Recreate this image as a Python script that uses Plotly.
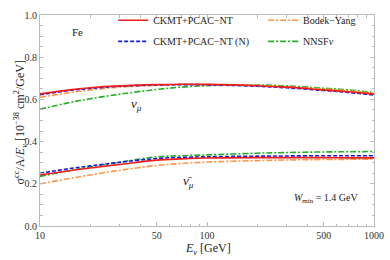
import plotly.graph_objects as go

E = [10, 15, 20, 30, 50, 70, 100, 200, 300, 500, 700, 1000]

# nu_mu
nu_ckmt   = [0.626, 0.645, 0.655, 0.664, 0.670, 0.672, 0.671, 0.665, 0.658, 0.645, 0.636, 0.625]
nu_ckmtN  = [0.622, 0.642, 0.652, 0.662, 0.668, 0.670, 0.669, 0.662, 0.655, 0.642, 0.633, 0.621]
nu_by     = [0.610, 0.632, 0.645, 0.658, 0.667, 0.670, 0.670, 0.666, 0.660, 0.650, 0.641, 0.630]
nu_nnsf   = [0.553, 0.585, 0.603, 0.625, 0.647, 0.658, 0.665, 0.668, 0.664, 0.653, 0.645, 0.633]

# anti nu_mu
nb_ckmt   = [0.242, 0.262, 0.275, 0.292, 0.312, 0.318, 0.322, 0.324, 0.324, 0.324, 0.323, 0.323]
nb_ckmtN  = [0.250, 0.272, 0.285, 0.302, 0.320, 0.325, 0.328, 0.331, 0.332, 0.333, 0.333, 0.333]
nb_by     = [0.200, 0.225, 0.242, 0.264, 0.287, 0.296, 0.303, 0.310, 0.313, 0.315, 0.316, 0.317]
nb_nnsf   = [0.235, 0.262, 0.280, 0.302, 0.328, 0.333, 0.337, 0.345, 0.348, 0.351, 0.352, 0.353]

names = ["CKMT+PCAC\u2212NT", "CKMT+PCAC\u2212NT (N)", "Bodek\u2212Yang", "NNSF<i>\u03bd</i>"]
colors = ["rgb(235,30,30)", "rgb(25,25,230)", "rgb(255,150,70)", "rgb(40,175,40)"]
dashes = ["solid", "4px,2px", "6px,2px,2px,2px", "6px,2px,2px,2px"]
legends = ["legend", "legend2", "legend3", "legend4"]

FONT = "Liberation Serif"
fig = go.Figure()

nu_sets = [nu_ckmt, nu_ckmtN, nu_by, nu_nnsf]
nb_sets = [nb_ckmt, nb_ckmtN, nb_by, nb_nnsf]
order = [3, 2, 1, 0]
for i in order:
    fig.add_trace(go.Scatter(x=E, y=nu_sets[i], mode="lines", name=names[i],
                             line=dict(color=colors[i], width=1.6, dash=dashes[i], shape="spline"),
                             legend=legends[i], showlegend=True))
    fig.add_trace(go.Scatter(x=E, y=nb_sets[i], mode="lines", name=names[i],
                             line=dict(color=colors[i], width=1.6, dash=dashes[i], shape="spline"),
                             showlegend=False))

axis_common = dict(showline=True, linecolor="#bbbbbb", linewidth=1, mirror="allticks",
                   ticks="inside", ticklen=4, tickcolor="#bbbbbb", showgrid=False, zeroline=False,
                   tickfont=dict(family=FONT, size=10, color="#333333"))

fig.update_xaxes(type="log", range=[1, 3],
                 tickvals=[10, 50, 100, 500, 1000], ticktext=["10", "50", "100", "500", "1000"],
                 minor=dict(tickvals=[20, 30, 40, 60, 70, 80, 90, 200, 300, 400, 600, 700, 800, 900],
                            ticks="inside", ticklen=2.5, tickcolor="#bbbbbb"),
                 **axis_common)
fig.update_yaxes(range=[0, 1], dtick=0.2, tickformat=".1f",
                 minor=dict(dtick=0.05, ticks="inside", ticklen=2.5, tickcolor="#bbbbbb"),
                 **axis_common)

txt = dict(family=FONT, size=11, color="#222")
fig.add_annotation(x=0.503, y=-0.109, xref="paper", yref="paper", yanchor="middle",
                   text="<i>E<sub>\u03bd</sub></i> [GeV]", showarrow=False, font=dict(family=FONT, size=12, color="#222"))
fig.add_annotation(x=-0.089, y=0.49, xref="paper", yref="paper", textangle=-90,
                   text="\u03c3<sup>cc</sup>/A/<i>E<sub>\u03bd</sub></i> [10<sup>\u221238</sup> cm<sup>2</sup>/GeV]",
                   showarrow=False, font=dict(family=FONT, size=12, color="#222"))
fig.add_annotation(x=0.09, y=0.955, xref="paper", yref="paper", text="Fe", showarrow=False, font=txt)
fig.add_annotation(x=0.266, y=0.578, xref="paper", yref="paper", text="<i>\u03bd<sub>\u03bc</sub></i>",
                   showarrow=False, font=dict(family=FONT, size=13, color="#222"))
fig.add_annotation(x=0.444, y=0.16, xref="paper", yref="paper", text="<i>\u03bd\u0304<sub>\u03bc</sub></i>",
                   showarrow=False, font=dict(family=FONT, size=13, color="#222"))
fig.add_annotation(x=0.96, y=0.09, xref="paper", yref="paper", xanchor="right",
                   text="<i>W</i><sub>min</sub> = 1.4 GeV", showarrow=False,
                   font=dict(family=FONT, size=10, color="#222"))

leg_common = dict(bgcolor="rgba(0,0,0,0)", borderwidth=0, font=dict(family=FONT, size=10, color="#222"),
                  yanchor="middle", xanchor="left", itemwidth=30)
fig.update_layout(
    width=390, height=260,
    margin=dict(l=40, r=12, t=6, b=34),
    paper_bgcolor="white", plot_bgcolor="white",
    showlegend=True,
    legend=dict(x=0.219, y=0.975, **leg_common),
    legend2=dict(x=0.219, y=0.875, **leg_common),
    legend3=dict(x=0.668, y=0.975, **leg_common),
    legend4=dict(x=0.668, y=0.875, **leg_common),
)
fig.write_html("out.html", config={"displayModeBar": False},
               post_script="document.body.style.margin='0';")
